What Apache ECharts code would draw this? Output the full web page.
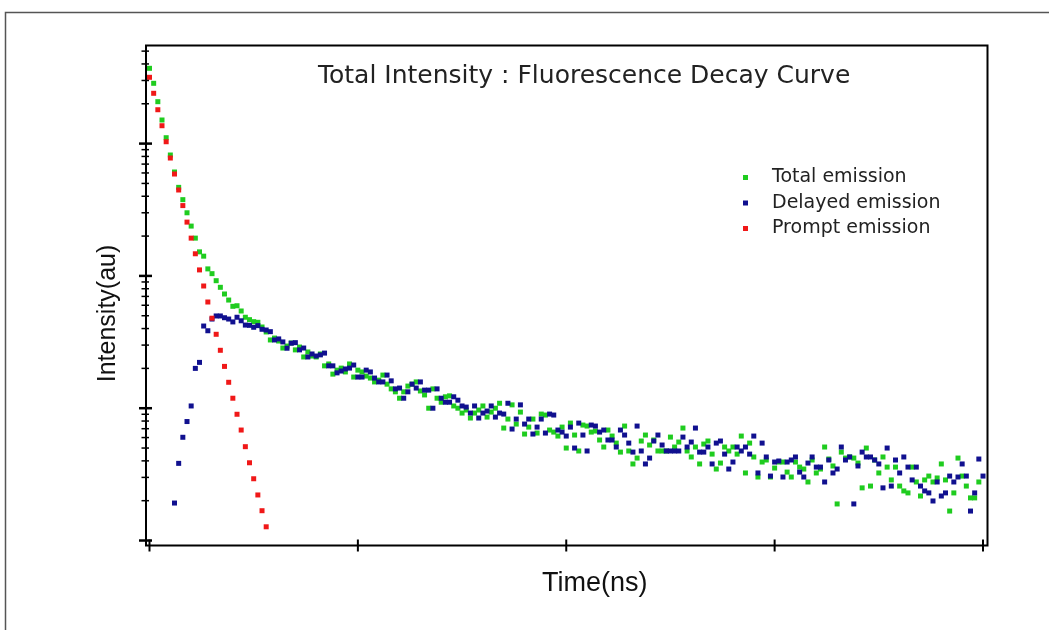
<!DOCTYPE html>
<html>
<head>
<meta charset="utf-8">
<script src="https://cdn.jsdelivr.net/npm/echarts@6/dist/echarts.min.js"></script>
<style>
html,body{margin:0;padding:0;background:#fff;}
#chart{width:1049px;height:630px;}
</style>
</head>
<body>
<div id="chart"></div>
<script>
// ---- data (time in ns, one sample per ns; intensity in arbitrary units) ----
const totalStart = 0;
const totalEmission = [
3707, 2856, 2074, 1508, 1108, 820, 610, 467, 377, 300,
238, 193, 152, 141, 113, 104, 92.0, 82.0, 73.0, 65.7,
58.9, 59.5, 54.3, 48.7, 46.7, 45.1, 44.6, 41.1, 37.7, 32.8,
33.9, 32.2, 28.5, 29.5, 31.1, 27.6, 29.0, 24.4, 26.6, 24.8,
24.4, 25.7, 20.9, 21.6, 18.1, 19.4, 20.1, 18.8, 21.6, 17.2,
19.4, 18.8, 17.5, 16.9, 15.8, 16.3, 17.8, 15.2, 14.0, 13.3,
11.9, 13.3, 14.7, 15.2, 15.8, 13.5, 12.6, 10.0, 14.0, 11.9,
11.1, 12.2, 12.4, 10.4, 10.0, 9.19, 9.69, 8.43, 9.19, 9.69,
10.4, 8.57, 9.35, 10.0, 10.9, 7.08, 8.28, 10.6, 7.59, 9.35,
6.38, 7.20, 8.28, 6.49, 9.03, 8.88, 6.84, 6.60, 6.16, 7.20,
5.00, 7.72, 6.27, 4.75, 7.46, 7.33, 6.60, 6.72, 5.75, 5.09,
6.84, 6.16, 5.45, 4.66, 7.33, 4.75, 3.79, 4.20, 5.65, 6.27,
5.27, 5.75, 4.75, 4.75, 4.75, 6.05, 5.09, 5.55, 7.08, 4.75,
4.28, 5.09, 3.79, 5.36, 5.65, 4.50, 3.47, 3.85, 5.09, 4.75,
5.09, 4.50, 6.16, 3.24, 5.45, 4.28, 3.02, 3.92, 4.06, 3.02,
3.53, 3.92, 3.92, 3.29, 3.02, 3.92, 3.59, 3.47, 2.77, 4.06,
3.24, 3.47, 5.09, 4.13, 3.66, 1.89, 4.66, 4.20, 4.28, 4.20,
3.85, 2.50, 5.00, 2.58, 4.06, 3.24, 4.28, 3.59, 2.87, 3.59,
2.58, 2.37, 2.29, 3.59, 2.77, 2.17, 2.87, 3.07, 2.77, 2.97,
3.79, 2.87, 1.67, 2.29, 4.20, 3.07, 2.58, 2.10, 2.10, 2.77
];
const delayedStart = 6;
const delayedEmission = [
1.92, 3.83, 6.03, 7.93, 10.4, 20.0, 22.2, 41.8, 38.5, 47.2,
49.8, 49.8, 48.3, 47.2, 44.9, 48.7, 45.8, 42.5, 42.3, 40.9,
42.1, 39.5, 39.0, 37.9, 32.8, 33.4, 31.7, 28.4, 31.0, 31.3,
27.6, 28.5, 24.4, 25.7, 24.8, 25.3, 26.1, 20.9, 20.9, 18.5,
19.1, 19.8, 20.1, 21.2, 17.2, 17.2, 19.4, 18.8, 16.9, 15.8,
15.8, 17.8, 16.1, 14.0, 14.2, 11.9, 13.3, 15.2, 14.2, 15.8,
13.7, 13.7, 10.0, 14.0, 11.9, 11.1, 11.1, 12.2, 11.5, 10.4,
10.2, 9.19, 10.4, 8.43, 9.19, 9.52, 10.4, 8.57, 9.19, 9.03,
10.9, 6.96, 8.28, 10.6, 7.59, 8.28, 6.38, 7.20, 8.28, 6.49,
9.03, 8.88, 6.84, 6.60, 6.16, 7.20, 5.00, 7.72, 6.27, 4.75,
7.46, 7.33, 6.60, 6.84, 5.75, 5.75, 5.09, 6.84, 6.27, 5.45,
4.66, 7.33, 4.75, 3.79, 4.20, 5.65, 6.27, 5.27, 4.75, 4.75,
4.75, 4.75, 6.05, 5.09, 5.55, 7.08, 4.66, 4.66, 5.09, 3.79,
5.45, 5.65, 4.50, 3.47, 3.92, 5.09, 4.75, 5.09, 4.50, 6.16,
3.24, 5.45, 4.28, 3.07, 3.92, 3.99, 3.02, 3.92, 4.06, 4.28,
3.29, 3.02, 3.85, 4.28, 3.59, 3.59, 2.77, 4.06, 3.24, 3.47,
5.09, 4.06, 4.28, 1.89, 3.66, 4.66, 4.28, 4.28, 4.06, 3.79,
2.50, 5.00, 2.58, 4.06, 3.24, 4.28, 3.59, 2.87, 3.59, 2.58,
2.37, 2.29, 1.99, 2.77, 2.17, 2.29, 3.07, 2.77, 3.02, 3.79,
3.07, 1.67, 2.29, 4.13, 3.07
];
const promptStart = 0;
const promptEmission = [
3170, 2400, 1803, 1365, 1033, 778, 589, 446, 340, 255,
193, 147, 111, 83.9, 63.5, 47.9, 36.2, 27.4, 20.7, 15.7,
11.9, 9.0, 6.84, 5.12, 3.87, 2.93, 2.21, 1.68, 1.27
];
const seriesNames = ['Total emission', 'Delayed emission', 'Prompt emission'];
const xTicks = [0, 50, 100, 150, 200];
const yMajorTicks = [1, 10, 100, 1000];
const yMinorTicks = [2, 3, 4, 5, 6, 7, 8, 9, 20, 30, 40, 50, 60, 70, 80, 90,
  200, 300, 400, 500, 600, 700, 800, 900, 2000, 3000, 4000, 5000];
const X_MIN = -0.84, X_MAX = 201.08;
const Y_MIN = 0.917, Y_MAX = 5514;

function toPairs(arr, start) { return arr.map((v, k) => [start + k, v]); }

const COLORS = ['#1fcc1f', '#10108f', '#f01818'];

function scatter(name, arr, start, color) {
  return {
    name: name, type: 'scatter', data: toPairs(arr, start),
    symbol: 'rect', symbolSize: 5, itemStyle: { color: color, opacity: 1 }, silent: true,
    emphasis: { disabled: true }
  };
}

function xTickSeries() {
  return {
    type: 'custom', silent: true, z: 10,
    data: xTicks.map(v => [v, Y_MIN]),
    renderItem: function (params, api) {
      const cs = params.coordSys;
      const p = api.coord([api.value(0), Y_MIN]);
      const yb = cs.y + cs.height;
      return { type: 'line', shape: { x1: p[0], y1: yb - 6, x2: p[0], y2: yb + 6 },
        style: { stroke: '#000', lineWidth: 2 } };
    }
  };
}
function yTickSeries(vals, left, right, w) {
  return {
    type: 'custom', silent: true, z: 10,
    data: vals.map(v => [X_MIN, v]),
    renderItem: function (params, api) {
      const cs = params.coordSys;
      const p = api.coord([X_MIN, api.value(1)]);
      return { type: 'line', shape: { x1: cs.x - left, y1: p[1], x2: cs.x + right, y2: p[1] },
        style: { stroke: '#000', lineWidth: w } };
    }
  };
}

const chart = echarts.init(document.getElementById('chart'), null, { renderer: 'canvas' });
chart.setOption({
  animation: false,
  backgroundColor: '#fff',
  title: {
    text: 'Total Intensity : Fluorescence Decay Curve',
    left: 313, top: 59,
    textStyle: { fontFamily: 'DejaVu Sans', fontSize: 25, fontWeight: 'normal', color: '#222' }
  },
  legend: {
    data: seriesNames, orient: 'vertical', left: 738, top: 163,
    icon: 'rect', itemWidth: 5, itemHeight: 5, itemGap: 6.5,
    textStyle: { fontFamily: 'DejaVu Sans', fontSize: 19, color: '#222', padding: [0, 0, 0, 19] },
    selectedMode: false
  },
  grid: { left: 146, right: 61.5, top: 45.5, bottom: 84.5, show: true,
    borderColor: '#000', borderWidth: 2, backgroundColor: 'transparent' },
  xAxis: {
    type: 'value', min: X_MIN, max: X_MAX,
    name: 'Time(ns)', nameLocation: 'middle', nameGap: 25,
    nameTextStyle: { fontFamily: 'Liberation Sans', fontSize: 27, color: '#111', padding: [0, 0, 0, 56] },
    axisLine: { show: false }, axisTick: { show: false }, axisLabel: { show: false },
    splitLine: { show: false }
  },
  yAxis: {
    type: 'log', logBase: 10, min: Y_MIN, max: Y_MAX,
    name: 'Intensity(au)', nameLocation: 'middle', nameGap: 25,
    nameTextStyle: { fontFamily: 'Liberation Sans', fontSize: 25, color: '#111', padding: [0, 36, 0, 0] },
    axisLine: { show: false }, axisTick: { show: false }, axisLabel: { show: false },
    splitLine: { show: false }, minorTick: { show: false }
  },
  graphic: [{
    type: 'rect', silent: true, z: -1,
    shape: { x: 5.5, y: 12.5, width: 1200, height: 800 },
    style: { fill: 'none', stroke: '#555', lineWidth: 1.5 }
  }],
  series: [
    scatter(seriesNames[0], totalEmission, totalStart, COLORS[0]),
    scatter(seriesNames[1], delayedEmission, delayedStart, COLORS[1]),
    scatter(seriesNames[2], promptEmission, promptStart, COLORS[2]),
    xTickSeries(),
    yTickSeries(yMajorTicks, 7, 6, 2.5),
    yTickSeries(yMinorTicks, 4.5, 3, 1.5)
  ]
});
</script>
</body>
</html>
